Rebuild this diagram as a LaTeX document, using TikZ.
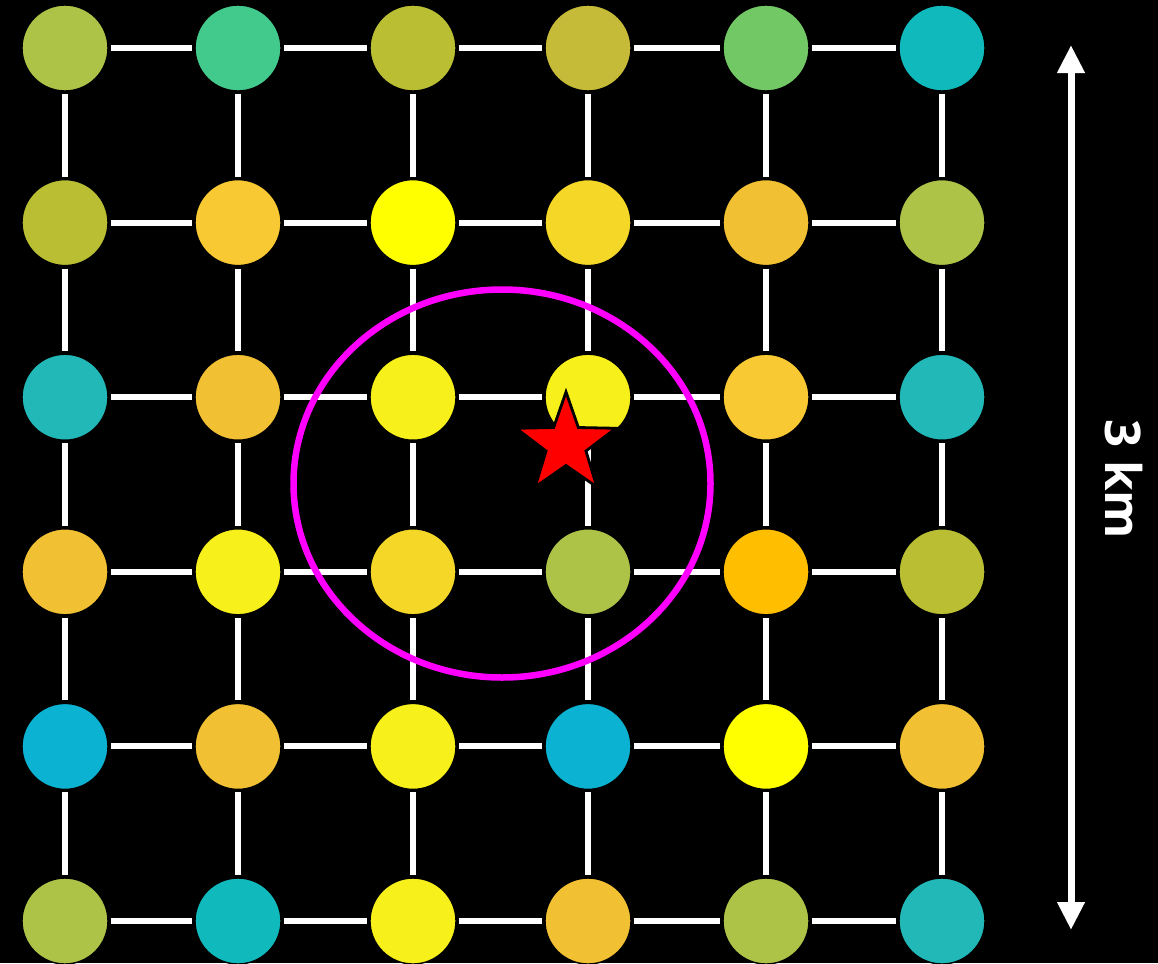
\documentclass[tikz,border=0pt]{standalone}
\usepackage{fontspec}
\setmainfont{Open Sans}
\usetikzlibrary{arrows.meta, shapes.geometric}

\definecolor{olive}{HTML}{B9BE33}
\definecolor{khaki}{HTML}{C6BB38}
\definecolor{leaf}{HTML}{ADC348}
\definecolor{mint}{HTML}{42CA8C}
\definecolor{grass}{HTML}{72C865}
\definecolor{teal}{HTML}{10BABC}
\definecolor{aqua}{HTML}{22B8B8}
\definecolor{sky}{HTML}{0CB2D2}
\definecolor{amber}{HTML}{F2C033}
\definecolor{gold}{HTML}{F8C932}
\definecolor{sun}{HTML}{F5D827}
\definecolor{lemon}{HTML}{F7F01A}
\definecolor{pureyellow}{HTML}{FFFF00}
\definecolor{deeporange}{HTML}{FFBE00}
\definecolor{ring}{HTML}{FF00FF}

\begin{document}
\begin{tikzpicture}
\def\dy{1.746}
\def\yo{9.15}

% Background
\fill[black] (0,0) rectangle (11.58,9.63);
\useasboundingbox (0,0) rectangle (11.58,9.63);

% Stations, row by row
\foreach \col [count=\i from 0] in {
  leaf, mint, olive, khaki, grass, teal,
  olive, gold, pureyellow, sun, amber, leaf,
  aqua, amber, lemon, lemon, gold, aqua,
  amber, lemon, sun, leaf, deeporange, olive,
  sky, amber, lemon, sky, pureyellow, amber,
  leaf, teal, lemon, amber, leaf, aqua}
{
  \pgfmathtruncatemacro{\r}{int(\i/6)}
  \pgfmathtruncatemacro{\c}{mod(\i,6)}
  \pgfmathsetmacro{\x}{{0.65,2.38,4.13,5.88,7.66,9.42}[\c]}
  \node[circle, fill=\col, draw=black, thin, minimum size=0.86cm,
        inner sep=0, outer sep=0.03cm] (n\r\c) at (\x, \yo-\r*\dy) {};
}

% Links
\foreach \r in {0,...,5} {
  \foreach \c [evaluate=\c as \cn using int(\c+1)] in {0,...,4} {
    \draw[white, line width=0.06cm] (n\r\c) -- (n\r\cn);
    \draw[white, line width=0.06cm] (n\c\r) -- (n\cn\r);
  }
}

% Search area
\draw[ring, line width=0.065cm] (5.02,4.795) ellipse [x radius=2.085, y radius=1.94];

% Epicentre
\node[star, star points=5, star point ratio=2.5, minimum size=1.05cm,
      inner sep=0, fill=red, draw=black, line width=0.8pt] (epi) at (5.66,5.185) {};

% Scale bar
\coordinate (top) at (10.71,9.18);
\coordinate (bot) at (10.71,0.33);
\draw[white, line width=0.07cm,
      {Triangle[width=0.26cm,length=0.28cm]}-{Triangle[width=0.26cm,length=0.28cm]}]
  (top) -- (bot);
\node[white, rotate=-90, font=\bfseries\fontsize{14}{14}\selectfont] (dist) at (11.24,4.84) {3 km};
\end{tikzpicture}
\end{document}
